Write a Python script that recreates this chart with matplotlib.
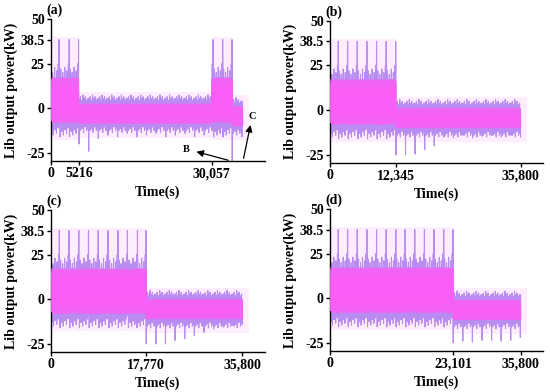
import numpy as np
import matplotlib
matplotlib.use("Agg")
import matplotlib.pyplot as plt

plt.rcParams['font.family'] = ['Liberation Serif', 'DejaVu Serif']
plt.rcParams['font.weight'] = 'bold'

# --- values ---
PANEL_TAGS = ['(a)', '(b)', '(c)', '(d)']
CYCLE_S = 1800          # spacing of the 38.5 kW peaks / discharge dips

XTICKS = [[0, 5216, 30057], [0, 12345, 35800], [0, 17770, 35800], [0, 23101, 35800]]
XTICK_LABELS = [['0', '5216', '30,057'], ['0', '12,345', '35,800'],
                ['0', '17,770', '35,800'], ['0', '23,101', '35,800']]
YTICKS = [-25, 0, 25, 38.5, 50]
YTICK_LABELS = ['-25', '0', '25', '38.5', '50']

# one charging cycle (ends with the 38.5 kW peak), outer (lavender) and core (magenta)
CHG_HI = [16, 16, 22, 16, 15, 17, 16, 20, 16, 15, 17, 16, 23, 16, 15, 17, 16, 21, 16, 17, 16, 25, 17, 38.5]
CHG_LO = [-16, -8, -7, -8, -13, -7, -8, -7, -15, -8, -7, -8, -12, -7, -8, -7, -14, -8, -7, -8, -11, -7, -8, -9]
CHG_CORE_HI = [14, 16, 13, 17, 15, 14, 16, 13, 17, 15, 16, 14, 17, 13, 16, 15, 14, 17, 15, 16, 13, 17, 15, 16]
CHG_CORE_LO = [-7, -5, -8, -4, -7, -6, -3, -8, -5, -7, -4, -6, -8, -5, -7, -3, -6, -8, -5, -7, -4, -6, -8, -6]

# one discharging cycle (first low value is replaced by the dip of that cycle)
DIS_HI = [1, 4, 1, 0, 5, 1, 0, 3, 1, 0, 6, 1, 0, 4, 1, 0, 5, 1, 0, 3, 1, 0, 4, 1]
DIS_LO = [-14, -10, -9, -14, -10, -9, -10, -13, -9, -10, -9, -15, -10, -9, -10, -12, -9, -10, -9, -14, -10, -9, -10, -13]
DIS_CORE_HI = [0, -2, 1, -1, 0, -3, 1, -1, 0, -2, 1, -1, 0, -3, 1, -1, 0, -2, 1, -1, 0, -3, 1, -1]
DIS_CORE_LO = [-10, -8, -9, -7, -10, -8, -9, -6, -10, -8, -9, -7, -10, -8, -9, -6, -10, -8, -9, -7, -10, -8, -9, -6]

# peak times inside the charging segments
PEAKS_A1 = [1500, 3400, 5150]
PEAKS_A2 = [30300, 32100, 33850]
PEAKS_B = [1554, 3308, 5118, 6929, 8739, 10550, 12345]
PEAKS_C = [1560, 3380, 5200, 7010, 8830, 10650, 12530, 14290, 16170, 17770]
PEAKS_D = [1554, 3308, 5118, 6929, 8739, 10550, 12360, 14104, 15918, 17730, 19541, 21352, 23101]

# deepest value of each discharging cycle
DIPS_A1 = [-20, -24, -17, -15, -16, -14, -16, -15, -14, -16, -15, -14, -16, -15]
DIPS_A2 = [-29.5, -16]
DIPS_B = [-25, -25, -24.5, -22, -20, -15, -15.5, -14, -15.5, -14.5, -14, -15, -14, -15]
DIPS_C = [-25, -25, -25, -23, -22, -20.5, -18.5, -16.5, -15.5, -14.5, -14]
DIPS_D = [-25, -24, -24.5, -23.5, -23.5, -24, -23.5, -22]

# (kind, start, end, peaks or dips, level shift of the band)
SEGMENTS = [
    [('chg', 0, 5216, PEAKS_A1, 0), ('dis', 5216, 30057, DIPS_A1, 1.5),
     ('chg', 30057, 33850, PEAKS_A2, 0), ('dis', 33850, 35800, DIPS_A2, 0)],
    [('chg', 0, 12345, PEAKS_B, 0), ('dis', 12345, 35800, DIPS_B, 0)],
    [('chg', 0, 17770, PEAKS_C, 0), ('dis', 17770, 35800, DIPS_C, -1)],
    [('chg', 0, 23101, PEAKS_D, 0), ('dis', 23101, 35800, DIPS_D, -2)],
]
PALE_CHG = (-18, 40)
PALE_DIS = (-18, 7.5)

LAV = '#B98CF2'
MAG = '#FA5EF6'
PALE = '#FEEDFE'

AX_POS = [[0.0927, 0.5893, 0.389, 0.3622], [0.6, 0.5842, 0.3873, 0.363],
          [0.0927, 0.102, 0.389, 0.3622], [0.6, 0.1046, 0.3873, 0.3622]]


def build(segments):
    n = len(CHG_HI)
    dt = CYCLE_S / n
    t, hi, lo, chi, clo = [], [], [], [], []
    for kind, t0, t1, marks, shift in segments:
        for k, m in enumerate(marks):
            if kind == 'chg':
                ts = m - CYCLE_S + dt * np.arange(1, n + 1)
                h, l = np.array(CHG_HI), np.array(CHG_LO)
                ch, cl = np.array(CHG_CORE_HI), np.array(CHG_CORE_LO)
            else:
                ts = t0 + k * CYCLE_S + dt * np.arange(n)
                h = np.array(DIS_HI) + shift
                l = np.array([m] + DIS_LO[1:]) + np.r_[0, np.full(n - 1, shift)]
                ch, cl = np.array(DIS_CORE_HI) + shift, np.array(DIS_CORE_LO) + shift
            keep = (ts >= t0) & (ts <= t1)
            t.append(ts[keep]); hi.append(h[keep]); lo.append(l[keep])
            chi.append(ch[keep]); clo.append(cl[keep])
    t = np.concatenate(t); hi = np.concatenate(hi); lo = np.concatenate(lo)
    chi = np.concatenate(chi); clo = np.concatenate(clo)
    order = np.argsort(t, kind='stable')
    return t[order], hi[order], lo[order], chi[order], clo[order], dt


fig = plt.figure(figsize=(5.5, 3.92), dpi=100)

for i, segs in enumerate(SEGMENTS):
    ax = fig.add_axes(AX_POS[i])
    t, hi, lo, chi, clo, dt = build(segs)

    # pale background haze
    for kind, t0, t1, marks, shift in segs:
        end = t1 + 1200 if t1 >= 35800 else t1
        if kind == 'chg':
            ax.fill_between([t0, end], PALE_CHG[0], PALE_CHG[1], color=PALE, lw=0, zorder=1)
        else:
            ax.fill_between([t0, end], PALE_DIS[0] + shift, PALE_DIS[1] + shift,
                            color=PALE, lw=0, zorder=1)

    # outer lavender trace
    zt = np.column_stack([t, t + dt / 2]).ravel()
    zv = np.column_stack([hi, lo]).ravel()
    ax.plot(zt, zv, color=LAV, lw=0.8, zorder=2)
    # magenta core, drawn as a dense trace so some lavender shows through
    zc = np.column_stack([chi, clo]).ravel()
    ax.fill_between(t, clo + 2, chi - 2, color=MAG, lw=0, zorder=3)
    ax.plot(zt, zc, color=MAG, lw=0.7, alpha=0.9, zorder=3)

    ax.set_xlim(0, 40000)
    ax.set_ylim(-29.5, 50)
    ax.set_xticks(XTICKS[i])
    ax.set_xticklabels(XTICK_LABELS[i])
    ax.set_yticks(YTICKS)
    ax.set_yticklabels(YTICK_LABELS)
    for side in ('top', 'right'):
        ax.spines[side].set_visible(False)
    for side in ('left', 'bottom'):
        ax.spines[side].set_linewidth(1.0)
    ax.tick_params(direction='out', length=3, width=1, labelsize=10, pad=1.5)
    ax.set_xlabel('Time(s)', fontsize=10, fontweight='bold')
    ax.set_ylabel('Lib output power(kW)', fontsize=10, fontweight='bold')
    ax.xaxis.set_label_coords(0.5, -0.17)
    ax.yaxis.set_label_coords(-0.155, 0.5)
    ax.text(-0.02, 1.06, PANEL_TAGS[i], transform=ax.transAxes, fontsize=10,
            fontweight='bold', ha='left', va='center')

    if i == 0:
        ax.annotate('', xy=(26700, -23.9), xytext=(33650, -29.5),
                    arrowprops=dict(arrowstyle='-|>', color='k', lw=0.9, mutation_scale=10),
                    annotation_clip=False, zorder=5)
        ax.annotate('', xy=(37400, -7.8), xytext=(35900, -29.5),
                    arrowprops=dict(arrowstyle='-|>', color='k', lw=0.9, mutation_scale=10),
                    annotation_clip=False, zorder=5)
        ax.text(25200, -23.3, 'B', fontsize=7.5, fontweight='bold', ha='center', va='center')
        ax.text(37700, -4.5, 'C', fontsize=7.5, fontweight='bold', ha='center', va='center')

fig.savefig('out.png', dpi=100)
